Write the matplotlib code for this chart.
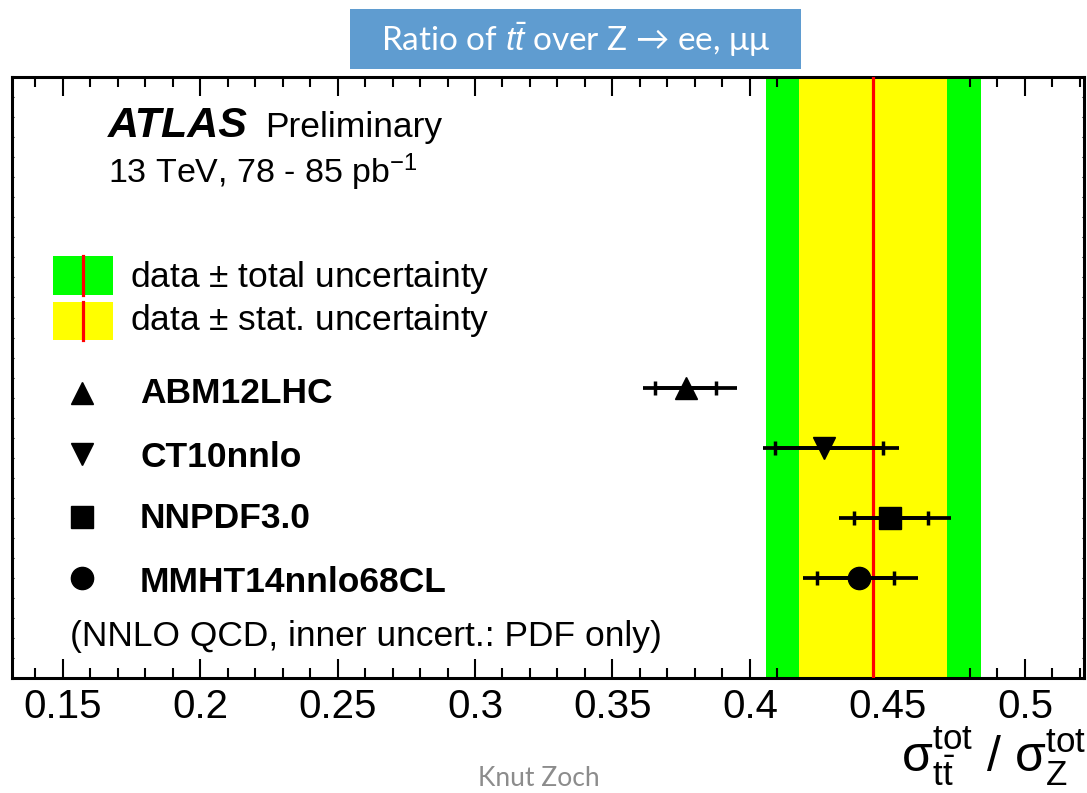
import numpy as np
import matplotlib
matplotlib.use("Agg")
from matplotlib import pyplot as plt
from matplotlib.patches import Rectangle
from matplotlib.ticker import MultipleLocator

plt.rcParams['font.family'] = ['Liberation Sans', 'DejaVu Sans']
plt.rcParams['mathtext.fontset'] = 'custom'
plt.rcParams['mathtext.rm'] = 'Liberation Sans'
plt.rcParams['mathtext.it'] = 'Liberation Sans:italic'

# measured ratio sigma(ttbar) / sigma(Z)
data_value = 0.4448
data_stat = 0.0269
data_total = 0.0391

# NNLO predictions: central value, PDF-only band (inner), total band (outer)
pdf_names = ['ABM12LHC', 'CT10nnlo', 'NNPDF3.0', 'MMHT14nnlo68CL']
pdf_markers = ['^', 'v', 's', 'o']
pred_value = [0.3768, 0.4269, 0.4510, 0.4398]
pred_inner_lo = [0.3656, 0.4090, 0.4378, 0.4243]
pred_inner_hi = [0.3878, 0.4484, 0.4646, 0.4524]
pred_outer_lo = [0.3610, 0.4047, 0.4323, 0.4194]
pred_outer_hi = [0.3952, 0.4541, 0.4733, 0.4611]

xticks = [0.15, 0.2, 0.25, 0.3, 0.35, 0.4, 0.45, 0.5]
xtick_labels = ['0.15', '0.2', '0.25', '0.3', '0.35', '0.4', '0.45', '0.5']

W, H = 1087, 793


def fx(x):
    return x / W


def fy(y):
    return 1 - y / H


fig = plt.figure(figsize=(W / 100, H / 100), dpi=100)
ax = fig.add_axes([fx(11.7), fy(678.3), (1084.3 - 11.7) / W, (678.3 - 77) / H])
ax.set_xlim(0.1315, 0.5216)
ax.set_ylim(0, 1)

# data bands
ax.axvspan(data_value - data_total, data_value + data_total, color='#00ff00', lw=0, zorder=1)
ax.axvspan(data_value - data_stat, data_value + data_stat, color='#ffff00', lw=0, zorder=2)
ax.axvline(data_value, color='#ff0000', lw=2.3, zorder=3)

# row heights of the predictions (axes fraction)
rows = [0.4833, 0.3835, 0.2661, 0.1668]
for i in range(len(pdf_names)):
    v = pred_value[i]
    ax.errorbar(v, rows[i], xerr=[[v - pred_outer_lo[i]], [pred_outer_hi[i] - v]],
                fmt='none', ecolor='black', elinewidth=2.7, capsize=0, zorder=5)
    ax.errorbar(v, rows[i], xerr=[[v - pred_inner_lo[i]], [pred_inner_hi[i] - v]],
                fmt='none', ecolor='black', elinewidth=2.7, capsize=5, capthick=2.5, zorder=5)
    ax.plot(v, rows[i], marker=pdf_markers[i], ms=16, color='black', ls='none', zorder=6)

ax.set_xticks(xticks)
ax.set_xticklabels(xtick_labels, fontsize=29)
ax.xaxis.set_minor_locator(MultipleLocator(0.01))
ax.tick_params(axis='x', which='major', direction='in', length=14, width=1.5,
               top=True, bottom=True, pad=7)
ax.tick_params(axis='x', which='minor', direction='in', length=7, width=1.5,
               top=True, bottom=True)
ax.set_yticks([])
ax.yaxis.set_minor_locator(MultipleLocator(1 / 30))
ax.tick_params(axis='y', which='minor', direction='in', length=1.5, width=0.8,
               left=True, right=True)
for sp in ax.spines.values():
    sp.set_linewidth(2.2)

# header text
fig.text(fx(108), fy(137), 'ATLAS', fontsize=31, fontweight='bold', style='italic')
fig.text(fx(265), fy(137), 'Preliminary', fontsize=25.5)
fig.text(fx(108), fy(183), r'13 TeV, 78 - 85 pb$^{\mathregular{-1}}$', fontsize=24.5)

# legend for the data bands
fig.patches.append(Rectangle((fx(52.7), fy(295)), (113.3 - 52.7) / W, 39 / H,
                             transform=fig.transFigure, color='#00ff00', lw=0))
fig.patches.append(Rectangle((fx(52.7), fy(340)), (113.3 - 52.7) / W, 38.3 / H,
                             transform=fig.transFigure, color='#ffff00', lw=0))
fig.lines.append(plt.Line2D([fx(82.7), fx(82.7)], [fy(295), fy(256)],
                            transform=fig.transFigure, color='#ff0000', lw=2.3))
fig.lines.append(plt.Line2D([fx(82.7), fx(82.7)], [fy(340), fy(301.7)],
                            transform=fig.transFigure, color='#ff0000', lw=2.3))
fig.text(fx(130), fy(287), r'data $\pm$ total uncertainty', fontsize=25.5)
fig.text(fx(130), fy(330), r'data $\pm$ stat. uncertainty', fontsize=25.5)

# legend for the predictions
marker_y = [393, 454, 517, 578]
label_y = [403, 467, 528, 592]
for i in range(len(pdf_names)):
    fig.lines.append(plt.Line2D([fx(82)], [fy(marker_y[i])], transform=fig.transFigure,
                                marker=pdf_markers[i], ms=16, color='black', ls='none'))
    fig.text(fx(140), fy(label_y[i]), pdf_names[i], fontsize=25.5, fontweight='bold')
fig.text(fx(70), fy(646), '(NNLO QCD, inner uncert.: PDF only)', fontsize=25.5)

# axis title
fig.text(fx(1086), fy(772),
         r'$\mathregular{\sigma^{tot}_{t\bar{t}}}$ / $\mathregular{\sigma^{tot}_{Z}}$',
         fontsize=36, ha='right', va='baseline')

# slide title box and footer
fig.patches.append(Rectangle((fx(350), fy(69)), 451 / W, 60 / H,
                             transform=fig.transFigure, color='#5f9cd0', lw=0))
fig.text(fx(575.5), fy(40), r'Ratio of $t\bar{t}$ over Z → ee, μμ',
         fontsize=24, color='white', ha='center', va='center',
         family=['Lato', 'DejaVu Sans'])
fig.text(fx(539), fy(778), 'Knut Zoch', fontsize=19, color='#8c8c8c',
         ha='center', va='center', family=['Lato', 'DejaVu Sans'])

fig.savefig('out.png', dpi=100)
